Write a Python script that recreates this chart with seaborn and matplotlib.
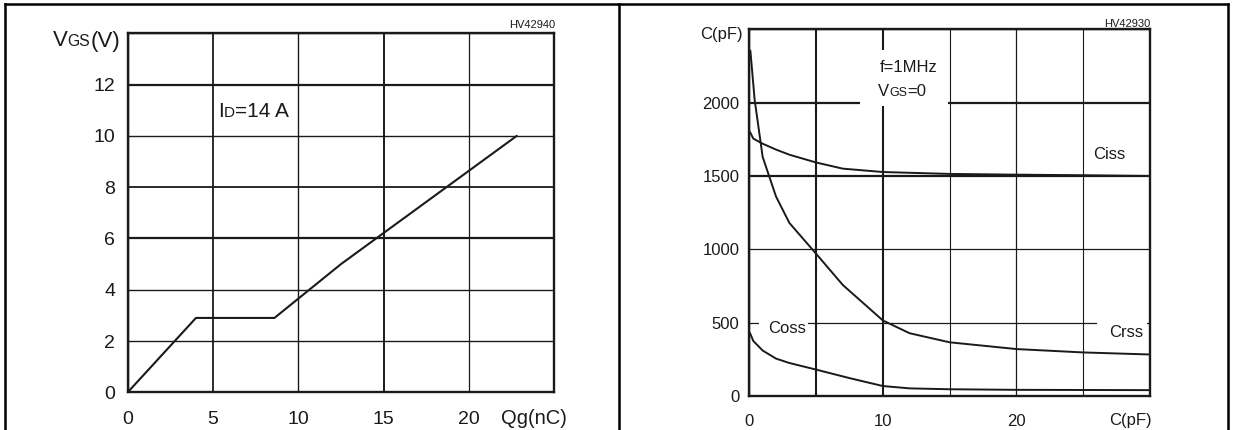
import matplotlib
matplotlib.use("Agg")
import matplotlib.pyplot as plt
from matplotlib.transforms import IdentityTransform
from matplotlib.lines import Line2D
from matplotlib.patches import Rectangle
import numpy as np
import pandas as pd
import seaborn as sns

# ---------------- data ----------------
qg_nc = [0.0, 4.0, 8.6, 12.5, 22.8]
vgs_v = [0.0, 2.9, 2.9, 5.0, 10.0]

ciss_x = [0.05, 0.3, 1.0, 2.0, 3.0, 5.0, 7.0, 10.0, 15.0, 20.0, 25.0, 30.0]
ciss_pf = [1800, 1755, 1720, 1680, 1645, 1592, 1550, 1527, 1514, 1509, 1505, 1500]

crss_x = [0.08, 0.4, 1.0, 2.0, 3.0, 5.0, 7.0, 10.0, 12.0, 15.0, 20.0, 25.0, 30.0]
crss_pf = [2355, 2020, 1630, 1360, 1180, 970, 757, 515, 428, 366, 320, 297, 283]

coss_x = [0.05, 0.3, 1.0, 2.0, 3.0, 5.0, 7.5, 10.0, 12.0, 15.0, 20.0, 30.0]
coss_pf = [430, 375, 310, 255, 225, 180, 122, 68, 52, 46, 42, 40]

left_xticks = [0, 5, 10, 15, 20, 25]
left_xlabels = ["0", "5", "10", "15", "20", ""]
left_yticks = [0, 2, 4, 6, 8, 10, 12, 14]
left_ylabels = ["0", "2", "4", "6", "8", "10", "12", ""]

right_xticks = [0, 5, 10, 15, 20, 25, 30]
right_xlabels = ["0", "", "10", "", "20", "", ""]
right_yticks = [0, 500, 1000, 1500, 2000, 2500]
right_ylabels = ["0", "500", "1000", "1500", "2000", ""]

# ---------------- style ----------------
sns.set_theme(style="white")
plt.rcParams["font.family"] = ["Liberation Sans", "DejaVu Sans"]
INK = "#1a1a1a"
W, H = 1234, 430

fig = plt.figure(figsize=(W / 100, H / 100), dpi=100)
fig.patch.set_facecolor("white")


def px_axes(l, t, r, b):
    return [l / W, 1 - b / H, (r - l) / W, (b - t) / H]


axL = fig.add_axes(px_axes(127.7, 33.3, 554.3, 392.3))
axR = fig.add_axes(px_axes(749.3, 29.3, 1150.0, 396.0))

# ---------------- left: gate charge ----------------
sns.lineplot(x=qg_nc, y=vgs_v, ax=axL, color=INK, lw=1.5,
             estimator=None, sort=False, zorder=3)
axL.set_xlim(0, 25)
axL.set_ylim(0, 14)
axL.set_xticks(left_xticks, left_xlabels)
axL.set_yticks(left_yticks, left_ylabels)
axL.tick_params(axis="x", length=0, pad=13.3, labelsize=14, labelcolor=INK)
axL.tick_params(axis="y", length=0, pad=9.0, labelsize=14, labelcolor=INK)

# ---------------- right: capacitance ----------------
df = pd.concat([
    pd.DataFrame({"v": ciss_x, "c": ciss_pf, "s": "Ciss"}),
    pd.DataFrame({"v": crss_x, "c": crss_pf, "s": "Crss"}),
    pd.DataFrame({"v": coss_x, "c": coss_pf, "s": "Coss"}),
], ignore_index=True)
sns.lineplot(data=df, x="v", y="c", hue="s", units="s", estimator=None,
             palette={"Ciss": INK, "Crss": INK, "Coss": INK},
             legend=False, lw=1.4, ax=axR, sort=False, zorder=3)
axR.set_xlim(0, 30)
axR.set_ylim(0, 2500)
axR.set_xticks(right_xticks, right_xlabels)
axR.set_yticks(right_yticks, right_ylabels)
axR.tick_params(axis="x", length=0, pad=13.0, labelsize=12, labelcolor=INK)
axR.tick_params(axis="y", length=0, pad=7.2, labelsize=12, labelcolor=INK)

for ax in (axL, axR):
    ax.set_xlabel("")
    ax.set_ylabel("")
    ax.set_facecolor("white")
    ax.set_axisbelow(True)
    ax.grid(True, color=INK, lw=1.0)
    for sp in ax.spines.values():
        sp.set_visible(True)
        sp.set_color(INK)
        sp.set_linewidth(1.7)

# per-line grid weights (as in the scanned original)
for gl, lw in zip(axL.yaxis.get_gridlines(), [1, 1.0, 1.0, 1.6, 1.3, 1.0, 1.6, 1]):
    gl.set_linewidth(lw)
for gl, lw in zip(axL.xaxis.get_gridlines(), [1, 1.3, 1.0, 1.4, 0.9, 1]):
    gl.set_linewidth(lw)
for gl, lw in zip(axR.yaxis.get_gridlines(), [1, 0.9, 0.9, 1.6, 1.6, 1]):
    gl.set_linewidth(lw)
for gl, lw in zip(axR.xaxis.get_gridlines(), [1, 1.5, 1.5, 0.8, 0.9, 0.8, 1]):
    gl.set_linewidth(lw)

# white masks behind annotations (gaps in grid lines)
for (x0, x1, y0, y1) in [(8.31, 14.9, 1975, 2356), (0.73, 4.4, 470, 530),
                         (26.0, 29.75, 470, 530)]:
    axR.add_patch(Rectangle((x0, y0), x1 - x0, y1 - y0, facecolor="white",
                            edgecolor="none", zorder=1))

# ---------------- texts ----------------
fig.canvas.draw()
renderer = fig.canvas.get_renderer()


def rich(x, y, parts, ha="left"):
    arts = [fig.text(0, 0, s, fontsize=fs, va="baseline", ha="left",
                     transform=IdentityTransform(), color=INK, zorder=5)
            for s, fs in parts]
    widths = [a.get_window_extent(renderer).width for a in arts]
    tot = sum(widths)
    x0 = x - tot if ha == "right" else (x - tot / 2 if ha == "center" else x)
    for a, w in zip(arts, widths):
        a.set_position((x0, H - y))
        x0 += w


rich(120, 46.5, [("V", 16), ("GS", 11.3), ("(V)", 16)], ha="right")
rich(555, 28, [("HV42940", 8)], ha="right")
rich(218.4, 116.7, [("I", 15), ("D", 11), ("=14 A", 15)])
rich(534, 424, [("Qg(nC)", 14.5)], ha="center")

rich(743, 39, [("C(pF)", 12)], ha="right")
rich(1150.7, 27.3, [("HV42930", 8)], ha="right")
rich(879.3, 72.3, [("f=1MHz", 12)])
rich(878, 96, [("V", 12), ("GS", 9), ("=0", 12)])
rich(1109.4, 159.3, [("Ciss", 12)], ha="center")
rich(787, 333.3, [("Coss", 12)], ha="center")
rich(1125.7, 337.3, [("Crss", 12)], ha="center")
rich(1152, 425, [("C(pF)", 12)], ha="right")

# ---------------- outer frame ----------------
for xs, ys in [([5, 5], [0, H - 4]), ([5, 1228], [H - 4, H - 4]),
               ([1228, 1228], [0, H - 4]), ([619, 619], [0, H - 4])]:
    fig.add_artist(Line2D(xs, ys, transform=IdentityTransform(), color="black",
                          lw=1.8, solid_capstyle="projecting"))

fig.savefig("out.png", dpi=100, facecolor="white")
